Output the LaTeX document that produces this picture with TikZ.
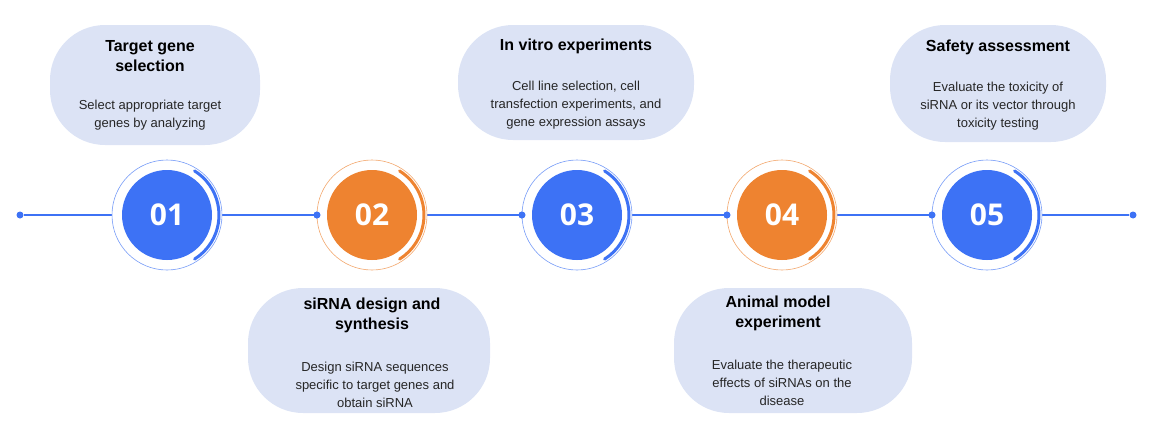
\documentclass[tikz,border=0pt]{standalone}
\usepackage{fontspec}
\setmainfont{Liberation Sans}
\newfontfamily\numfont{Open Sans}
\definecolor{stepblue}{HTML}{3D72F5}
\definecolor{steporange}{HTML}{EE8330}
\definecolor{bubblefill}{HTML}{DCE3F5}
\tikzset{
  bubble/.style={fill=bubblefill, rounded corners=55pt},
  headtext/.style={font=\bfseries\fontsize{16}{20}\selectfont, align=center, text=black},
  bodytext/.style={font=\fontsize{13}{18}\selectfont, align=center, text=black!85},
  dot/.style={circle, fill=stepblue, inner sep=0pt, minimum size=7pt},
  numtext/.style={font=\numfont\bfseries\fontsize{30}{30}\selectfont, text=white}
}
\begin{document}
\begin{tikzpicture}[x=1pt,y=-1pt]
\useasboundingbox (0,0) rectangle (1155,434);

% bubbles
\fill[bubble] (50,25) rectangle (260,145);
\fill[bubble] (248,288) rectangle (490,413);
\fill[bubble] (458,25) rectangle (694,140);
\fill[bubble] (674,288) rectangle (912,413);
\fill[bubble] (890,25) rectangle (1106,142);

% texts
\node[headtext] (h1) at (150,56) {Target gene\\selection};
\node[bodytext] (b1) at (150,115) {Select appropriate target\\genes by analyzing};
\node[headtext] (h2) at (372,315) {siRNA design and\\synthesis};
\node[bodytext] (b2) at (375,385) {Design siRNA sequences\\specific to target genes and\\obtain siRNA};
\node[headtext] (h3) at (576,46) {In vitro experiments};
\node[bodytext] (b3) at (576,105) {Cell line selection, cell\\transfection experiments, and\\gene expression assays};
\node[headtext] (h4) at (778,313) {Animal model\\experiment};
\node[bodytext] (b4) at (782,383) {Evaluate the therapeutic\\effects of siRNAs on the\\disease};
\node[headtext] (h5) at (998,47) {Safety assessment};
\node[bodytext] (b5) at (998,106) {Evaluate the toxicity of\\siRNA or its vector through\\toxicity testing};

% timeline
\node[dot] (d0) at (20,215) {};
\node[dot] (d1) at (317,215) {};
\node[dot] (d2) at (522,215) {};
\node[dot] (d3) at (727,215) {};
\node[dot] (d4) at (932,215) {};
\node[dot] (d5) at (1133,215) {};
\draw[stepblue, line width=1.2pt] (d0) -- (d5);

% steps
\foreach \i/\x/\c in {1/167/stepblue, 2/372/steporange, 3/577/stepblue, 4/782/steporange, 5/987/stepblue}{
  \fill[white] (\x,215) circle (55);
  \draw[\c!70, line width=0.6pt] (\x,215) circle (55);
  \draw[\c, line width=3pt, line cap=round] (\x,215) ++(-58:52) arc[start angle=-58, end angle=58, radius=52];
  \node[circle, fill=\c, minimum size=90pt, inner sep=0pt, numtext] (s\i) at (\x,215) {0\i};
}
\fill[stepblue] (d1) circle (3.5) (d2) circle (3.5) (d3) circle (3.5) (d4) circle (3.5);
\end{tikzpicture}
\end{document}
